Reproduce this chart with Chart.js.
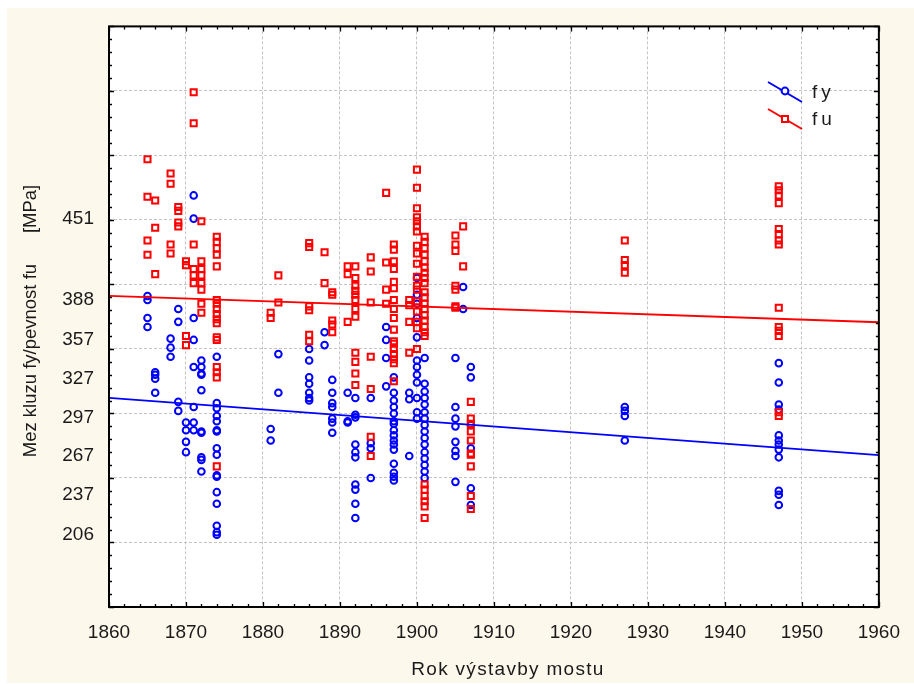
<!DOCTYPE html>
<html>
<head>
<meta charset="utf-8">
<script src="https://cdn.jsdelivr.net/npm/chart.js@4"></script>
<style>
  html, body { margin: 0; padding: 0; background: #ffffff; }
  canvas { display: block; }
</style>
</head>
<body>
<canvas id="c" width="914" height="684"></canvas>
<script>
// Year of construction for each group of tested bridges
const bridgeYears = [1865, 1866, 1868, 1869, 1870, 1871, 1872, 1874, 1881, 1882, 1886, 1888, 1889,
                     1891, 1892, 1894, 1896, 1897, 1899, 1900, 1901, 1905, 1906, 1907, 1927, 1947];

// Yield strength fy [MPa], one list per year above
const fyMPa = [
  [391, 388, 374, 367],
  [332, 330, 327, 316],
  [358, 351, 344],
  [381, 371, 309, 302],
  [293, 287, 278, 270],
  [469, 451, 374, 357, 336, 305, 293, 287],
  [341, 336, 331, 330, 318, 286, 285, 266, 264, 255],
  [344, 308, 304, 298, 294, 287, 286, 273, 268, 252, 251, 239, 230, 213, 208, 206],
  [288, 279],
  [346, 316],
  [350, 341, 328, 323, 316, 312, 310],
  [363, 353],
  [326, 316, 308, 305, 296, 293, 285],
  [316, 294, 293],
  [312, 299, 297, 276, 270, 266, 245, 241, 230, 219],
  [312, 277, 273, 250],
  [367, 357, 343, 321],
  [328, 316, 310, 305, 300, 294, 292, 287, 283, 279, 276, 272, 261, 254, 251, 248],
  [316, 311, 267],
  [405, 392, 385, 374, 359, 341, 336, 330, 324, 312, 301, 296],
  [343, 323, 317, 312, 307, 301, 296, 291, 286, 281, 276, 270, 265, 260, 255, 250],
  [343, 305, 296, 290, 278, 271, 267, 247],
  [398, 381],
  [336, 328, 291, 273, 242, 229],
  [305, 302, 298, 279],
  [339, 324, 307, 303, 283, 279, 276, 272, 266, 240, 237, 229]
];

// Tensile strength fu [MPa], one list per year above
const fuMPa = [
  [497, 468, 434, 423],
  [465, 444, 408],
  [486, 478, 431, 424],
  [460, 457, 448, 445],
  [418, 415, 360, 353],
  [549, 525, 431, 412, 407, 401],
  [449, 418, 412, 407, 401, 396, 385, 378],
  [437, 433, 428, 423, 414, 388, 385, 381, 377, 373, 370, 359, 357, 336, 332, 328, 259],
  [378, 374],
  [407, 386],
  [432, 429, 383, 380, 361, 356],
  [425, 401],
  [394, 392, 372, 369, 363],
  [414, 408, 371],
  [414, 405, 399, 395, 392, 388, 381, 375, 347, 340, 331, 322],
  [421, 410, 386, 344, 319, 282, 267],
  [471, 417, 396, 385],
  [431, 427, 418, 412, 402, 397, 388, 381, 374, 365, 356, 354, 350, 346, 342, 339, 325],
  [388, 384, 371, 347],
  [489, 475, 459, 452, 449, 445, 441, 430, 424, 416, 406, 399, 396, 387, 379, 371, 366, 350],
  [437, 433, 428, 423, 418, 413, 409, 405, 401, 394, 390, 385, 381, 376, 372, 367, 363, 360,
   245, 241, 236, 232, 228, 219],
  [438, 431, 426, 399, 396, 383, 382],
  [445, 414],
  [309, 296, 292, 286, 279, 269, 268, 259, 236, 226],
  [434, 419, 415, 409],
  [476, 473, 469, 463, 443, 439, 434, 431, 382, 367, 364, 360, 301, 298]
];

// Linear trend lines, evaluated at the ends of the year axis
const fitYears = [1860, 1960];
const fyFit = [312.1, 267.7];
const fuFit = [391.1, 370.7];

// Axis ranges and the labelled strength levels
const yearTicks = [1860, 1870, 1880, 1890, 1900, 1910, 1920, 1930, 1940, 1950, 1960];
const strengthLabels = [206, 237, 267, 297, 327, 357, 388, 451];
const strengthGrid = [150, 200, 250, 300, 350, 400, 450, 500, 550, 600];

const FONT = "'Liberation Sans', Arial, Helvetica, sans-serif";
const BLUE = '#0000ff';
const RED = '#ff0000';
const CREAM = '#fdf8ec';
const GRID = '#c4c4c4';

function toPoints(years, groups) {
  const pts = [];
  years.forEach((yr, i) => groups[i].forEach(v => pts.push({ x: yr, y: v })));
  return pts;
}

const fyPoints = toPoints(bridgeYears, fyMPa);
const fuPoints = toPoints(bridgeYears, fuMPa);
const fyLine = fitYears.map((x, i) => ({ x, y: fyFit[i] }));
const fuLine = fitYears.map((x, i) => ({ x, y: fuFit[i] }));

// Background, frame, inward tick marks, legend and axis titles
const decorations = {
  id: 'decorations',
  beforeDraw(chart) {
    const { ctx, chartArea: a, width, height } = chart;
    ctx.save();
    ctx.fillStyle = '#ffffff';
    ctx.fillRect(0, 0, width, height);
    ctx.fillStyle = CREAM;
    ctx.fillRect(7, 8, width - 7, height - 9);
    ctx.fillStyle = '#ffffff';
    ctx.fillRect(a.left, a.top, a.right - a.left, a.bottom - a.top);
    ctx.restore();
  },
  afterDraw(chart) {
    const { ctx, chartArea: a } = chart;
    const xs = chart.scales.x, ys = chart.scales.y;
    ctx.save();

    // inward tick marks on all four sides
    ctx.strokeStyle = '#000000';
    ctx.lineWidth = 1.3;
    ctx.beginPath();
    for (let yr = 1860; yr <= 1960; yr += 2) {
      const px = Math.round(xs.getPixelForValue(yr)) + 0.5;
      const len = yr % 10 === 0 ? 5 : 3;
      ctx.moveTo(px, a.bottom); ctx.lineTo(px, a.bottom - len);
      ctx.moveTo(px, a.top); ctx.lineTo(px, a.top + len);
    }
    for (let v = 150; v <= 600; v += 10) {
      const py = Math.round(ys.getPixelForValue(v)) + 0.5;
      const len = v % 50 === 0 ? 5 : 3;
      ctx.moveTo(a.left, py); ctx.lineTo(a.left + len, py);
      ctx.moveTo(a.right, py); ctx.lineTo(a.right - len, py);
    }
    ctx.stroke();

    // plot frame
    ctx.lineWidth = 2;
    ctx.strokeRect(a.left, a.top, a.right - a.left, a.bottom - a.top);

    // legend with slanted line samples
    const items = [
      { label: 'fy', color: BLUE, style: 'circle', y: 92 },
      { label: 'fu', color: RED, style: 'rect', y: 119 }
    ];
    items.forEach(it => {
      ctx.strokeStyle = it.color;
      ctx.lineWidth = 2;
      ctx.beginPath();
      ctx.moveTo(768, it.y - 10);
      ctx.lineTo(802, it.y + 10);
      ctx.stroke();
      ctx.fillStyle = '#ffffff';
      ctx.lineWidth = 2;
      ctx.beginPath();
      if (it.style === 'circle') {
        ctx.arc(785, it.y - 1, 3.4, 0, Math.PI * 2);
      } else {
        ctx.rect(782, it.y - 3, 6, 6);
      }
      ctx.fill();
      ctx.stroke();
      ctx.fillStyle = '#1a1a1a';
      ctx.font = '19px ' + FONT;
      ctx.textAlign = 'left';
      ctx.textBaseline = 'middle';
      try { ctx.letterSpacing = '4px'; } catch (e) {}
      ctx.fillText(it.label, 812, it.y + 1);
      try { ctx.letterSpacing = '0px'; } catch (e) {}
    });

    // axis titles
    ctx.fillStyle = '#1a1a1a';
    ctx.font = '19px ' + FONT;
    ctx.textAlign = 'center';
    ctx.textBaseline = 'middle';
    try { ctx.letterSpacing = '1.3px'; } catch (e) {}
    ctx.fillText('Rok výstavby mostu', 508, 670);
    try { ctx.letterSpacing = '0px'; } catch (e) {}

    ctx.translate(31, 321);
    ctx.rotate(-Math.PI / 2);
    ctx.font = '18.5px ' + FONT;
    ctx.fillText('Mez kluzu fy/pevnost fu\u00a0\u00a0\u00a0\u00a0\u00a0\u00a0[MPa]', 0, 0);
    ctx.restore();
  }
};

new Chart(document.getElementById('c'), {
  type: 'scatter',
  data: {
    datasets: [
      {
        label: 'fu trend', type: 'line', data: fuLine, order: 0,
        borderColor: RED, borderWidth: 1.8, pointRadius: 0, fill: false, tension: 0
      },
      {
        label: 'fy trend', type: 'line', data: fyLine, order: 0,
        borderColor: BLUE, borderWidth: 1.8, pointRadius: 0, fill: false, tension: 0
      },
      {
        label: 'fu', data: fuPoints, order: 1,
        pointStyle: 'rect', pointRadius: 4.3, borderWidth: 2,
        borderColor: RED, backgroundColor: 'rgba(0,0,0,0)'
      },
      {
        label: 'fy', data: fyPoints, order: 2,
        pointStyle: 'circle', pointRadius: 3.3, borderWidth: 2,
        borderColor: BLUE, backgroundColor: 'rgba(0,0,0,0)'
      }
    ]
  },
  options: {
    responsive: false,
    animation: false,
    devicePixelRatio: 1,
    layout: { padding: { left: 0, right: 25, top: 26, bottom: 0 } },
    plugins: { legend: { display: false }, tooltip: { enabled: false }, title: { display: false } },
    scales: {
      x: {
        type: 'linear', min: 1860, max: 1960,
        afterBuildTicks: s => { s.ticks = yearTicks.map(v => ({ value: v })); },
        afterFit: s => { s.height = 77; },
        ticks: {
          autoSkip: false, maxRotation: 0, padding: 14, color: '#1a1a1a',
          font: { family: FONT, size: 19 },
          callback: v => String(v)
        },
        grid: {
          drawTicks: false, lineWidth: 1,
          color: c => (c.tick && c.tick.value > 1860 && c.tick.value < 1960) ? GRID : 'rgba(0,0,0,0)'
        },
        border: { display: false, dash: [3, 2] }
      },
      y: {
        type: 'linear', min: 150, max: 600,
        afterBuildTicks: s => {
          const vals = strengthGrid.concat(strengthLabels).sort((p, q) => p - q);
          s.ticks = vals.map(v => ({ value: v }));
        },
        afterFit: s => { s.width = 109; },
        ticks: {
          autoSkip: false, padding: 15, color: '#1a1a1a',
          font: { family: FONT, size: 19 },
          callback: v => strengthLabels.includes(v) ? String(v) : ''
        },
        grid: {
          drawTicks: false, lineWidth: 1,
          color: c => (c.tick && strengthGrid.includes(c.tick.value) && c.tick.value > 150 && c.tick.value < 600) ? GRID : 'rgba(0,0,0,0)'
        },
        border: { display: false, dash: [3, 2] }
      }
    }
  },
  plugins: [decorations]
});
</script>
</body>
</html>
